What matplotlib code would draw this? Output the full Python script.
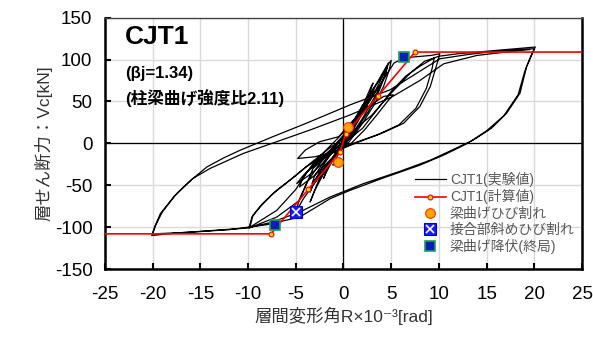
import numpy as np
import matplotlib
matplotlib.use('Agg')
import matplotlib.pyplot as plt
from matplotlib.legend_handler import HandlerTuple

plt.rcParams['font.family'] = ['Liberation Sans', 'Noto Sans CJK JP', 'DejaVu Sans']
plt.rcParams['axes.unicode_minus'] = False

# 実験値 (層間変形角 R x10^-3 rad, 層せん断力 kN) -- 読み取り値
small_r = [0, 0.3, 0.5, 0.35, 0.1, -0.2, -0.5, -0.35, -0.1,
           0.3, 0.9, 1.1, 0.8, 0.3, -0.3, -0.9, -1.1, -0.8, -0.3,
           0.5, 1.4, 2.0, 1.7, 1.0, 0.2, -0.8, -1.6, -2.1, -1.7, -0.9, 0,
           1.2, 2.1, 2.9, 3.1, 2.6, 1.8, 0.6, -0.7, -2.0, -3.2, -3.5, -2.9, -2.0, -0.8, 0.5,
           1.8, 2.6, 3.3, 2.9, 2.0, 0.8, -0.6, -1.8, -3.3, -3.0, -1.8, -0.5, 1.0,
           2.2, 3.0, 2.5, 1.2, -0.3, -2.0, -3.6, -4.9, -4.2, -2.8, -1.0, 0.6]
small_v = [0, 7, 12, 7, 0, -6, -12, -6, 1,
           9, 22, 27, 17, 4, -8, -20, -26, -16, -3,
           12, 32, 46, 35, 18, 0, -14, -30, -42, -30, -12, 4,
           26, 47, 68, 72, 55, 36, 10, -12, -32, -50, -58, -42, -24, -4, 16,
           40, 56, 68, 54, 36, 12, -10, -26, -48, -38, -18, 2, 22,
           46, 62, 48, 24, 0, -22, -38, -48, -38, -22, -4, 14]

loop5_r = [2.4, 3.6, 4.5, 5.0, 4.8, 4.2, 3.2, 2.0, 0.6, -0.8, -2.0, -3.2, -4.2, -5.0,
           -4.6, -3.8, -2.6, -1.2, 0.3, 1.8, 3.2, 4.3, 4.7, 4.4, 3.7, 2.6, 1.2, -0.2,
           -1.6, -3.0, -4.6, -4.3, -3.3, -2.0, -0.6, 1.0, 2.6, 4.2, 5.2, 4.6, 3.5, 2.2,
           0.8, -1.0, -3.0, -4.8, -4.0, -2.5, -0.5,
           1.2, 2.6, 3.8, 4.6, 4.3, 3.4, 2.0, 0.5, -1.2, -2.6, -3.5, -3.0, -1.8, -0.4]
loop5_v = [52, 74, 92, 99, 88, 68, 46, 24, 2, -14, -30, -50, -66, -82,
           -66, -46, -26, -6, 14, 36, 60, 84, 96, 82, 62, 38, 14, -6,
           -22, -38, -52, -42, -26, -10, 6, 26, 44, 56, 58, 50, 34, 16,
           0, -10, -16, -18, -8, 2, 8,
           30, 56, 76, 92, 80, 58, 30, 4, -20, -44, -70, -56, -30, -6]

loop10_r = [1.5, 3.0, 4.5, 5.3, 6.2, 7.2, 8.2, 9.2, 10.1,
            9.8, 9.1, 8.0, 6.3, 4.0, 2.1, -1.4, -3.2, -4.6, -7.0, -9.9,
            -9.6, -8.75, -7.4, -5.6, -3.9, -2.0, 0, 2.0, 3.5, 5.0, 6.5, 8.0, 9.5,
            9.3, 8.7, 7.6, 5.8, 3.5, 1.0, -2.0, -3.8, -5.0, -7.0, -9.8,
            -9.5, -8.5, -7.0, -5.2, -3.5, -1.5, 0.7, 3.0, 5.0, 7.0, 8.5, 10.0]
loop10_v = [30, 55, 82, 96, 101, 103, 104, 105, 107,
            95, 68, 44, 24, 12, 4, -12, -30, -68, -88, -101,
            -88, -76, -60, -44, -28, -14, 0, 18, 40, 62, 80, 92, 102,
            90, 66, 42, 22, 10, 0, -16, -34, -55, -80, -100,
            -86, -72, -56, -40, -24, -6, 12, 34, 60, 84, 98, 104]

loop20_r = [12, 14, 16, 18, 20.1,
            19.7, 19.2, 18.5, 17.1, 15.5, 13.6, 11.0, 9.1, 6.0, 2.1, -1.4, -4.6, -7.5, -10.0,
            -12.5, -15, -17.5, -20.1,
            -19.8, -19.2, -17.8, -16.0, -14.3, -12.5, -10.8, -7.4, -3.9, 0.7, 4.9, 10.1, 13, 16, 20.0,
            19.6, 19.0, 18.3, 16.8, 15.0, 13.0, 10.5, 8.0, 4.0, 0.7, -1.4, -4.6, -8.0, -12, -16, -20.0,
            -19.7, -19.0, -17.5, -15.8, -14.0, -10.5, -7.0, -3.5, 0.7, 5.0, 8.0, 10.5, 14, 17, 19.5]
loop20_v = [107, 109, 111, 113, 115,
            105, 92, 60, 36, 18, 4, -10, -20, -33, -48, -64, -82, -94, -101,
            -103, -105, -107, -110,
            -100, -84, -64, -44, -28, -17, -8, 8, 24, 46, 64, 101, 106, 110, 113,
            103, 86, 58, 33, 15, 0, -14, -26, -42, -56, -66, -88, -97, -103, -106, -108,
            -98, -82, -60, -42, -30, -12, 2, 16, 34, 55, 75, 95, 105, 109, 112]

# 計算値
calc_r = [-25, -7.6, -3.7, -0.37, 0.23, 3.6, 7.5, 25]
calc_v = [-108, -108, -55, -10.7, 11.5, 56.4, 109, 109]

# 破壊イベント
crack_r = [0.5, -0.55]
crack_v = [19, -22.7]
joint_r = [-5.0]
joint_v = [-82]
yield_r = [6.3, -7.2]
yield_v = [103, -97.5]

exp_r = np.array(small_r + loop5_r + loop10_r + loop20_r)
exp_v = np.array(small_v + loop5_v + loop10_v + loop20_v)

fig = plt.figure(figsize=(5.93, 3.38), dpi=100)
ax = fig.add_axes([0.177, 0.204, 0.8045, 0.7436])

ax.grid(True, color='#d9d9d9', lw=1)
ax.set_axisbelow(True)
ax.axhline(0, color='black', lw=0.9, zorder=1.5)
ax.axvline(0, color='black', lw=0.9, zorder=1.5)

l_exp, = ax.plot(exp_r, exp_v, color='black', lw=0.9, zorder=2)
l_calc, = ax.plot(calc_r, calc_v, color='red', lw=1.2, marker='o', ms=3.5,
                  mfc='#ffd700', mec='red', mew=0.8, zorder=3,
                  markevery=list(range(1, len(calc_r) - 1)))
p_crack, = ax.plot(crack_r, crack_v, ls='none', marker='o', ms=7,
                   mfc='#ffa500', mec='#ff3300', mew=0.8, zorder=4)
p_joint1, = ax.plot(joint_r, joint_v, ls='none', marker='s', ms=8,
                    mfc='#1a1aff', mec='#0000cc', mew=0.8, zorder=4)
p_joint2, = ax.plot(joint_r, joint_v, ls='none', marker='x', ms=6,
                    mec='white', mew=1.2, zorder=5)
p_yield, = ax.plot(yield_r, yield_v, ls='none', marker='s', ms=6.5,
                   mfc='#0a1fb0', mec='#1f9e5a', mew=1.2, zorder=4)

ax.set_xlim(-25, 25)
ax.set_ylim(-150, 150)
ax.set_xticks(np.arange(-25, 26, 5))
ax.set_yticks(np.arange(-150, 151, 50))
ax.tick_params(direction='in', length=4, width=1.5, labelsize=13.5,
               colors='black')
ax.tick_params(axis='x', pad=12)
ax.tick_params(axis='y', pad=9)
for s in ['left', 'bottom', 'right']:
    ax.spines[s].set_linewidth(1.8)
ax.spines['top'].set_linewidth(1.0)
ax.spines['top'].set_color('#444444')

ax.set_xlabel('層間変形角R×10⁻³[rad]', fontsize=12.5, color='#333333', labelpad=3)
ax.set_ylabel('層せん断力：Vc[kN]', fontsize=12.5, color='#333333', labelpad=2)

ax.text(0.042, 0.925, 'CJT1', transform=ax.transAxes, fontsize=19,
        fontweight='bold', va='center', ha='left')
ax.text(0.042, 0.78, '(βj=1.34)', transform=ax.transAxes, fontsize=12,
        fontweight='bold', va='center', ha='left')
ax.text(0.042, 0.68, '(柱梁曲げ強度比2.11)', transform=ax.transAxes, fontsize=12,
        fontweight='bold', va='center', ha='left')

leg = ax.legend([l_exp, l_calc, p_crack, (p_joint1, p_joint2), p_yield],
                ['CJT1(実験値)', 'CJT1(計算値)', '梁曲げひび割れ',
                 '接合部斜めひび割れ', '梁曲げ降伏(終局)'],
                handler_map={tuple: HandlerTuple(ndivide=1, pad=0)},
                loc='upper left', bbox_to_anchor=(0.65, 0.385), frameon=False,
                fontsize=10, handlelength=2.2, handletextpad=0.3,
                labelspacing=0.15, borderpad=0, borderaxespad=0)
for t in leg.get_texts():
    t.set_color('#595959')

fig.savefig('out.png', dpi=100)
